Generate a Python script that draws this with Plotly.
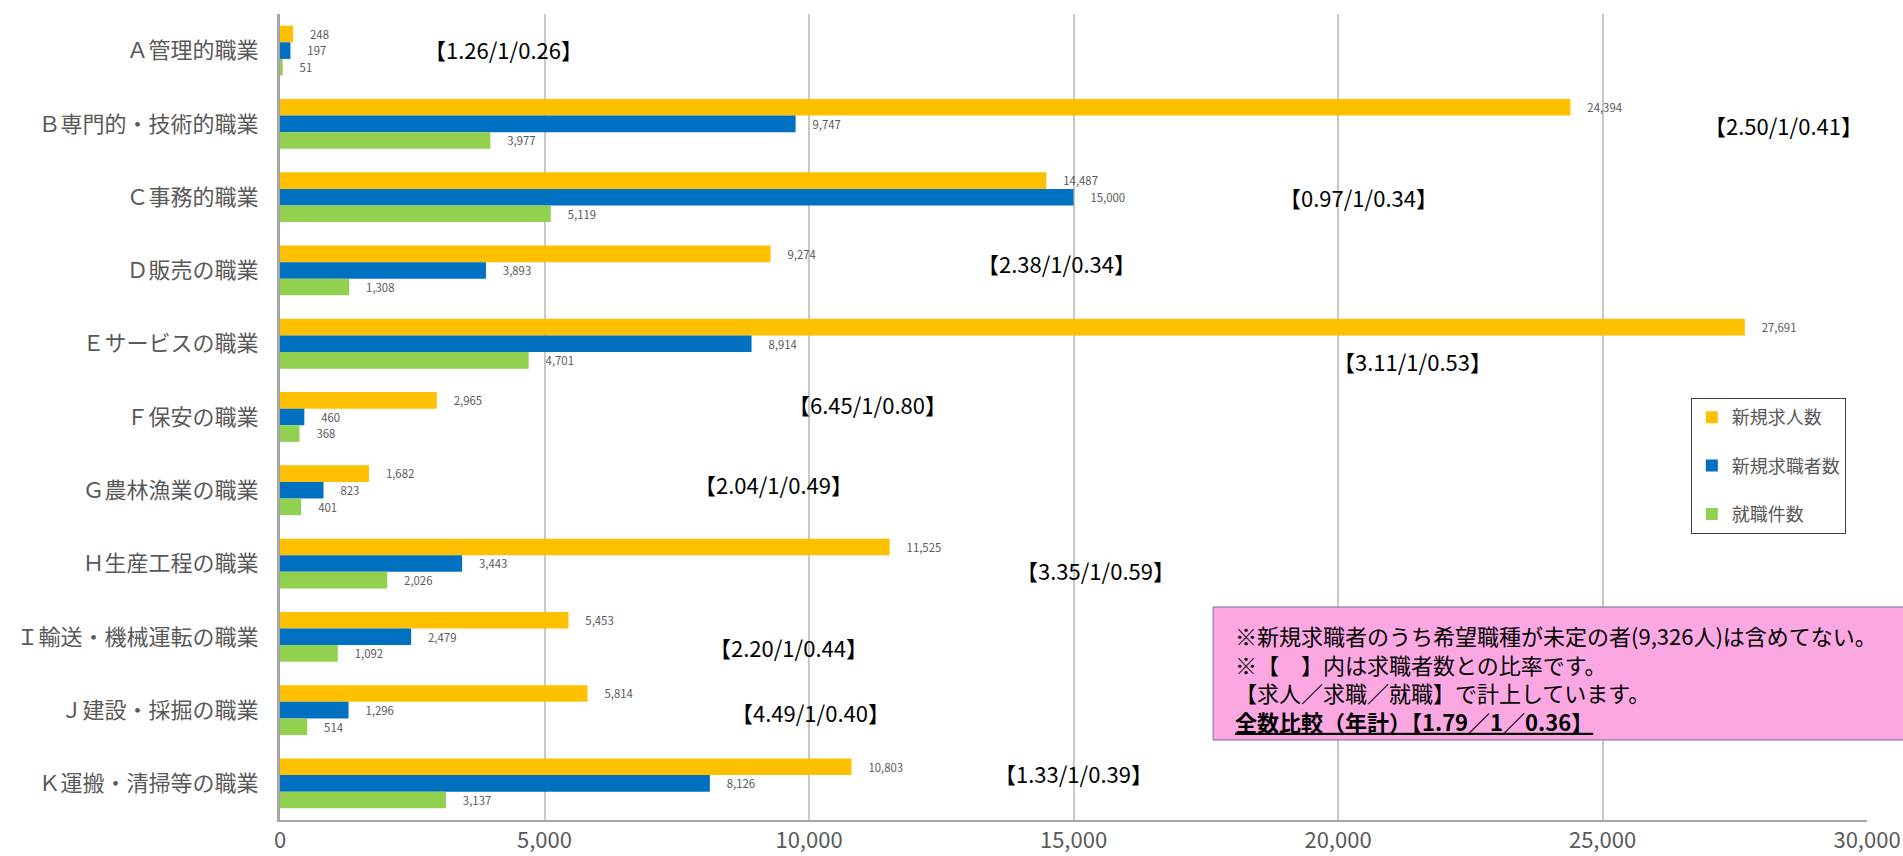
import plotly.graph_objects as go

categories = ["Ａ管理的職業", "Ｂ専門的・技術的職業", "Ｃ事務的職業", "Ｄ販売の職業",
              "Ｅサービスの職業", "Ｆ保安の職業", "Ｇ農林漁業の職業", "Ｈ生産工程の職業",
              "Ｉ輸送・機械運転の職業", "Ｊ建設・採掘の職業", "Ｋ運搬・清掃等の職業"]
job_offers = [248, 24394, 14487, 9274, 27691, 2965, 1682, 11525, 5453, 5814, 10803]
job_seekers = [197, 9747, 15000, 3893, 8914, 460, 823, 3443, 2479, 1296, 8126]
placements = [51, 3977, 5119, 1308, 4701, 368, 401, 2026, 1092, 514, 3137]
ratios = ["【1.26/1/0.26】", "【2.50/1/0.41】", "【0.97/1/0.34】", "【2.38/1/0.34】",
          "【3.11/1/0.53】", "【6.45/1/0.80】", "【2.04/1/0.49】", "【3.35/1/0.59】",
          "【2.20/1/0.44】", "【4.49/1/0.40】", "【1.33/1/0.39】"]
series_names = ["新規求人数", "新規求職者数", "就職件数"]
x_ticks = [0, 5000, 10000, 15000, 20000, 25000, 30000]
note_lines = ["※新規求職者のうち希望職種が未定の者(9,326人)は含めてない。",
              "※【　】内は求職者数との比率です。",
              "【求人／求職／就職】で計上しています。",
              "<b><u>全数比較（年計）【1.79／1／0.36】</u></b>"]

# label placement (x in data units, vertical shift in px)
ratio_x = [4220, 28420, 20390, 14680, 21400, 11100, 9330, 15410, 9610, 10020, 15000]
ratio_dy = [2, -1, 0, 7, -17, 13, 6, -6, -10, -2, 10]

colors = ["#FFC000", "#0070C0", "#92D050"]
FONT = "Noto Sans CJK JP"

fig = go.Figure()
for i, (name, vals) in enumerate(zip(series_names, [job_offers, job_seekers, placements])):
    fig.add_trace(go.Bar(
        y=categories, x=vals, name=name, orientation="h",
        marker=dict(color=colors[i], line=dict(width=0)),
        text=[f"{v:,}" for v in vals],
        texttemplate="\u3000\u00a0%{text}",
        textposition="outside", cliponaxis=False,
        textfont=dict(size=13, color="#595959", family=FONT),
        legendgroup=f"g{i}",
    ))

for cat, txt, xv, dy in zip(categories, ratios, ratio_x, ratio_dy):
    fig.add_annotation(x=xv, y=cat, xref="x", yref="y", text=txt, showarrow=False,
                       yshift=dy, font=dict(size=22, color="black", family=FONT))

# note box
fig.add_shape(type="rect", xref="paper", yref="paper", x0=0.588, x1=1.03, y0=0.0993, y1=0.2643,
              fillcolor="#FBA8E2", line=dict(color="#7a6a9a", width=1), layer="above")
fig.add_annotation(x=0.6013, y=0.2505, xref="paper", yref="paper", xanchor="left", yanchor="top",
                   text="<br>".join(note_lines), showarrow=False, align="left", borderpad=0,
                   font=dict(size=22, color="black", family=FONT))

fig.update_layout(
    width=1903, height=856, barmode="group", bargap=0.32, bargroupgap=0,
    margin=dict(l=280, r=36, t=14, b=36),
    paper_bgcolor="white", plot_bgcolor="white",
    font=dict(family=FONT),
    legend=dict(x=0.889, y=0.5236, xanchor="left", yanchor="top",
                bordercolor="#404040", borderwidth=1, bgcolor="white",
                font=dict(size=18, color="#595959", family=FONT),
                traceorder="grouped", tracegroupgap=22, itemwidth=30, entrywidth=158),
    xaxis=dict(range=[0, 30000], tickvals=x_ticks, tickformat=",", showgrid=True,
               gridcolor="#C8C8C8", gridwidth=2, showline=True, linecolor="#A6A6A6",
               linewidth=2, zeroline=False, ticks="", ticklabeloverflow="allow",
               tickfont=dict(size=22, color="#595959", family=FONT), automargin=False),
    yaxis=dict(autorange="reversed", showline=True, linecolor="#A6A6A6", linewidth=3,
               ticks="", ticklabelstandoff=14,
               tickfont=dict(size=22, color="#595959", family=FONT), automargin=False),
)

fig.write_html("out.html")
